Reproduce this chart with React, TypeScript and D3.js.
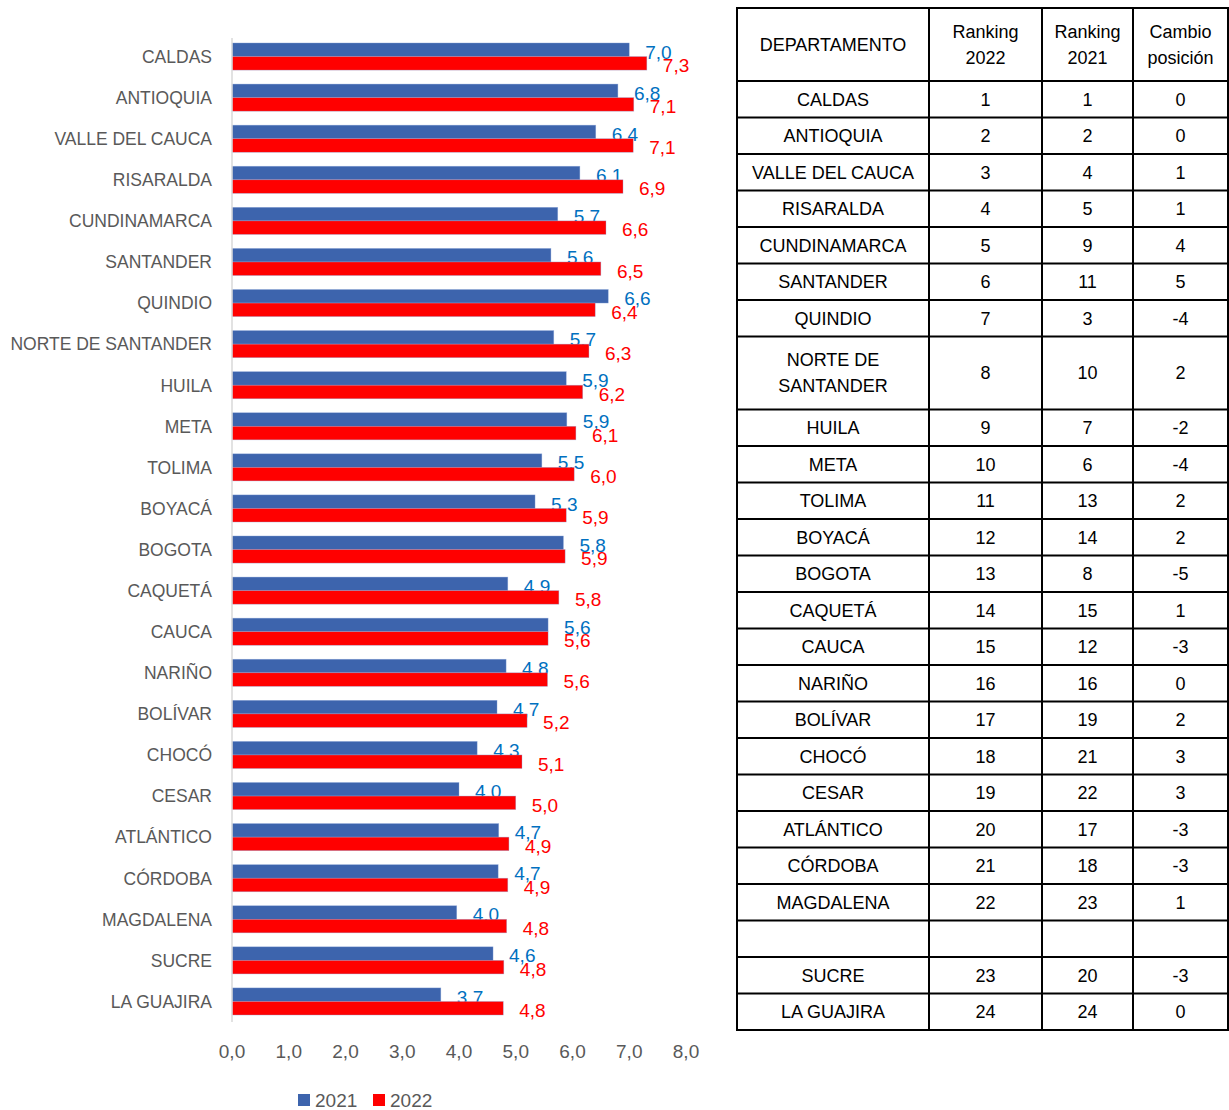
import * as d3 from "d3";

const DEPTS = [
  "CALDAS", "ANTIOQUIA", "VALLE DEL CAUCA", "RISARALDA", "CUNDINAMARCA", "SANTANDER",
  "QUINDIO", "NORTE DE SANTANDER", "HUILA", "META", "TOLIMA", "BOYACÁ", "BOGOTA",
  "CAQUETÁ", "CAUCA", "NARIÑO", "BOLÍVAR", "CHOCÓ", "CESAR", "ATLÁNTICO", "CÓRDOBA",
  "MAGDALENA", "SUCRE", "LA GUAJIRA",
];
const V2021 = [
  7.0, 6.8, 6.41, 6.13, 5.74, 5.62, 6.63, 5.67, 5.89, 5.9, 5.46, 5.34, 5.84, 4.86,
  5.57, 4.83, 4.67, 4.32, 4.0, 4.7, 4.69, 3.96, 4.6, 3.68,
];
const V2022 = [
  7.31, 7.08, 7.07, 6.89, 6.59, 6.5, 6.4, 6.29, 6.18, 6.06, 6.03, 5.89, 5.87, 5.76,
  5.57, 5.56, 5.2, 5.11, 5.0, 4.88, 4.86, 4.84, 4.79, 4.78,
];
const X_TICKS = [0, 1, 2, 3, 4, 5, 6, 7, 8];
const SERIES = ["2021", "2022"];

// table
const TABLE_HEAD = ["DEPARTAMENTO", "Ranking\n2022", "Ranking\n2021", "Cambio\nposición"];
const TABLE_NAMES = [
  "CALDAS", "ANTIOQUIA", "VALLE DEL CAUCA", "RISARALDA", "CUNDINAMARCA", "SANTANDER",
  "QUINDIO", "NORTE DE\nSANTANDER", "HUILA", "META", "TOLIMA", "BOYACÁ", "BOGOTA",
  "CAQUETÁ", "CAUCA", "NARIÑO", "BOLÍVAR", "CHOCÓ", "CESAR", "ATLÁNTICO", "CÓRDOBA",
  "MAGDALENA", "", "SUCRE", "LA GUAJIRA",
];
const RANK_2022 = ["1", "2", "3", "4", "5", "6", "7", "8", "9", "10", "11", "12", "13", "14", "15", "16", "17", "18", "19", "20", "21", "22", "", "23", "24"];
const RANK_2021 = ["1", "2", "4", "5", "9", "11", "3", "10", "7", "6", "13", "14", "8", "15", "12", "16", "19", "21", "22", "17", "18", "23", "", "20", "24"];
const CAMBIO = ["0", "0", "1", "1", "4", "5", "-4", "2", "-2", "-4", "2", "2", "-5", "1", "-3", "0", "2", "3", "3", "-3", "-3", "1", "", "-3", "0"];

const COLORS = ["#3D64AD", "#FF0000"];
const LABEL_COLORS = ["#0070C0", "#FF0000"];
const FONT = "'Liberation Sans', Arial, sans-serif";
const GRAY = "#595959";

const PLOT = { left: 232, right: 686, top: 36, bottom: 1022 };
const TBL = { left: 737, top: 8, cols: [737, 929, 1042, 1133, 1228], unit: 36.5 };

const fmt = (v: number) => v.toFixed(1).replace(".", ",");

export default function App() {
  const x = d3.scaleLinear().domain([0, 8]).range([PLOT.left, PLOT.right]);
  const y = d3
    .scaleBand<string>()
    .domain(DEPTS)
    .range([PLOT.top, PLOT.bottom])
    .paddingInner(0.34)
    .paddingOuter(0.17);
  const sub = d3.scaleBand<string>().domain(SERIES).range([0, y.bandwidth()]);
  const values = [V2021, V2022];

  // table row tops
  const headUnits = 2;
  const rowUnits = TABLE_NAMES.map((n) => (n.includes("\n") ? 2 : 1));
  const rowTops: number[] = [];
  let acc = TBL.top + headUnits * TBL.unit;
  rowUnits.forEach((u) => {
    rowTops.push(acc);
    acc += u * TBL.unit;
  });
  const tableBottom = acc;
  const colCenters = TBL.cols.slice(0, -1).map((c, i) => (c + TBL.cols[i + 1]) / 2);

  const multiText = (txt: string, cx: number, cy: number, key: string) => {
    const lines = txt.split("\n");
    const lh = 26;
    return lines.map((ln, i) => (
      <text
        key={key + i}
        x={cx}
        y={cy + (i - (lines.length - 1) / 2) * lh}
        dy="0.36em"
        textAnchor="middle"
        fontSize={18}
        fill="#000"
      >
        {ln}
      </text>
    ));
  };

  return (
    <svg
      width={1229}
      height={1110}
      style={{ position: "absolute", left: 0, top: 0, fontFamily: FONT }}
    >
      <rect width={1229} height={1110} fill="#fff" />
      {/* bars */}
      {DEPTS.map((d, i) => (
        <g key={d}>
          {SERIES.map((s, k) => {
            const v = values[k][i];
            const y0 = (y(d) ?? 0) + (sub(s) ?? 0);
            return (
              <g key={s}>
                <rect
                  x={x(0)}
                  y={y0}
                  width={x(v) - x(0)}
                  height={sub.bandwidth()}
                  fill={COLORS[k]}
                  stroke="#8FAADC"
                  strokeWidth={0.6}
                  strokeOpacity={0.6}
                />
                <text
                  x={x(v) + 16}
                  y={y0 + sub.bandwidth() / 2 + 2}
                  dy="0.36em"
                  fontSize={19}
                  fill={LABEL_COLORS[k]}
                >
                  {fmt(values[k][i])}
                </text>
              </g>
            );
          })}
          <text
            x={PLOT.left - 20}
            y={(y(d) ?? 0) + y.bandwidth() / 2}
            dy="0.36em"
            textAnchor="end"
            fontSize={17.5}
            fill={GRAY}
          >
            {d}
          </text>
        </g>
      ))}
      <line x1={x(0)} x2={x(0)} y1={PLOT.top + 2} y2={PLOT.bottom} stroke="#D9D9D9" strokeWidth={1.5} />
      {X_TICKS.map((t) => (
        <text key={t} x={x(t)} y={1051} dy="0.36em" textAnchor="middle" fontSize={19} fill={GRAY}>
          {fmt(t)}
        </text>
      ))}
      {/* legend */}
      {SERIES.map((s, k) => (
        <g key={s} transform={`translate(${298 + k * 75},1094)`}>
          <rect width={12} height={12} fill={COLORS[k]} />
          <text x={17} y={6} dy="0.36em" fontSize={19} fill={GRAY}>
            {s}
          </text>
        </g>
      ))}
      {/* table */}
      <g>
        {TABLE_HEAD.map((h, c) =>
          multiText(h, colCenters[c], TBL.top + (headUnits * TBL.unit) / 2, "h" + c)
        )}
        {TABLE_NAMES.map((n, r) => {
          const cy = rowTops[r] + (rowUnits[r] * TBL.unit) / 2;
          const cells = [n, RANK_2022[r], RANK_2021[r], CAMBIO[r]];
          return cells.map((c, ci) => multiText(c, colCenters[ci], cy, `r${r}c${ci}`));
        })}
        {[TBL.top + headUnits * TBL.unit, ...rowTops.slice(1)].map((yy, i) => (
          <line key={"hl" + i} x1={TBL.cols[0]} x2={TBL.cols[4]} y1={yy} y2={yy} stroke="#000" strokeWidth={2} />
        ))}
        {TBL.cols.map((cx, i) => (
          <line key={"vl" + i} x1={cx} x2={cx} y1={TBL.top} y2={tableBottom} stroke="#000" strokeWidth={2} />
        ))}
        <rect
          x={TBL.cols[0]}
          y={TBL.top}
          width={TBL.cols[4] - TBL.cols[0]}
          height={tableBottom - TBL.top}
          fill="none"
          stroke="#000"
          strokeWidth={2}
        />
      </g>
    </svg>
  );
}
